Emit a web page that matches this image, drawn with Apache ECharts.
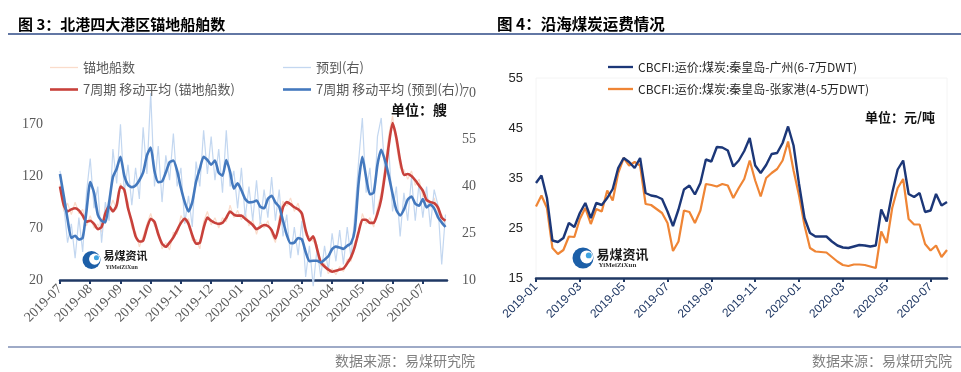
<!DOCTYPE html>
<html>
<head>
<meta charset="utf-8">
<script src="https://cdn.jsdelivr.net/npm/echarts@6/dist/echarts.min.js"></script>
<style>
html,body{margin:0;padding:0;background:#fff;}
#chart{width:961px;height:372px;}
</style>
</head>
<body>
<div id="chart"></div>
<script>
// ---------- Figure 3 data (sampled every 1/8 month from 2019-07-01) ----------
const leftStep = 0.125;
const leftTicks = ['2019-07','2019-08','2019-09','2019-10','2019-11','2019-12','2020-01','2020-02','2020-03','2020-04','2020-05','2020-06','2020-07'];
const anchorage = [112,86,94,83,95,84,88,72,82,70, 74,66,90,86,97,88,113,104,95,70, 66,52,62,74,84,72,68,50,56,49, 66,64,82,75,79,58,59,50,76,86, 73,80,70,80,76,92,80,87,78,85, 72,78,64,76,70,77,64,56,80,96, 91,99,86,94,80,63,62,57,54,33, 36,26,31,25,33,28,40,38,57,62, 84,74,80,71,90,104,130,160,178,150, 128,126,117,125,111,117,100,102,90,99, 85,83,72];
const arrivals = [45,34,22,28,17,30,19,38,49,33, 40,22,35,29,52,41,60,38,47,34, 46,36,59,44,70,40,53,35,50,42, 57,40,46,28,37,27,48,40,58,44, 56,42,52,38,58,40,45,33,46,30, 40,29,42,28,39,30,43,29,39,24, 31,17,27,18,29,11,21,8,20,11, 21,13,25,16,26,15,27,17,31,48, 62,38,46,31,56,62,44,52,32,40, 24,38,29,43,29,41,30,40,27,39, 34,15,31];
const anchorageMA = [110,92,86,88,89,87,82,76,77,74, 69,71,84,91,86,92,110,107,89,76, 62,57,58,70,79,76,64,55,52,56, 61,68,75,79,74,63,55,56,70,80, 77,75,74,75,80,86,83,82,82,79, 76,73,69,71,73,72,68,60,73,90, 95,93,90,88,84,68,58,62,50,37, 33,30,28,29,30,31,36,42,52,66, 78,78,75,75,84,98,122,150,171,157, 135,121,122,120,116,111,106,97,95,94, 90,80,77];
const arrivalsMA = [44,37,29.5,23.5,24.2,23,23.5,32,41.4,38, 31,29,28.5,35,43,45.7,49.5,43.5,40.5,39.8, 40.3,42,44.5,50,52.5,45,41.4,41.6,44.5,47.8, 48.3,45,39.5,35,32,35,41.5,45.7,49.5,48.5, 47,48.3,44.4,43.5,48.5,44.7,39.3,41,38.8,36, 34.9,35,35.5,33.5,33,36,37,34.9,33.5,29, 24.5,21.8,22,23.5,23,19,16,16.2,16.2,15.6, 16.5,17.6,19.9,20.7,20.4,20,21,21.8,26,41, 49.5,43,37.5,38,47,51.8,48.3,43.4,37.6,32.5, 30.7,32.6,35.8,36.8,34.5,33.8,36,33.3,34.2,33, 30.2,28.5,27];

// ---------- Figure 4 data (sampled every 1/4 month from 2019-01-01) ----------
const rightStep = 0.25;
const rightTicks = ['2019-01','2019-03','2019-05','2019-07','2019-09','2019-11','2020-01','2020-03','2020-05','2020-07'];
const qhdGuangzhou = [34,35.5,31,22.5,22.2,23,26,25.2,28,30, 27,30,29.6,31,32.8,37,39,38.2,37,39, 32,31.5,31.3,30.8,28.3,25.4,28.7,32.7,33.5,31.7, 34,38.7,38.3,41.2,41.1,40.5,37.3,38.5,40.4,43, 37.5,36,37.6,39.8,40,42,45.3,41.5,33.8,27, 24,23.3,23.3,23.3,22.3,21.5,21.1,21,21.3,21.6, 21.5,21.3,21.5,28.7,26.3,32,36.7,38.5,31.8,31.2, 32,28.2,28.5,31.8,29.5,30.2];
const qhdZhangjiagang = [29.3,31.5,29,21,19.8,20.6,23.3,23.2,26.8,29, 25.8,28.8,28.3,32.5,30.5,36,39,37.5,38.2,37.5, 29.8,29.6,28.8,28,26,20.4,22.3,28.5,28.2,26, 28.5,33.8,33.6,33.3,33.8,33.5,31,33,34.8,38.5, 34.5,31.3,35,36,36.8,38.5,42.3,36.5,31.5,25.5, 21,20.3,20.2,20.1,19.2,18.3,17.6,17.4,17.7,17.7, 17.6,17.3,17,24.3,22,29,33,34.8,26.8,25.7, 25.7,21.8,20.5,21.5,19.2,20.6];

const toPairs = (arr, step) => arr.map((v, i) => [i * step, v]);
const leftTickVals = leftTicks.map((_, i) => i);
const rightTickVals = rightTicks.map((_, i) => i * 2);

const SANS = '"Liberation Sans", "Noto Sans CJK SC", sans-serif';
const SERIF = '"Liberation Serif", "Noto Sans CJK SC", serif';
const CJK = '"Noto Sans CJK SC", "Liberation Sans", sans-serif';
const NAVY = '#1f3864';
const THICK = 'path://M0,0H28V2.6H0Z';
const THIN = 'path://M0,0H28V1.3H0Z';

function logo(cx, cy, r, fs, subFs) {
  return [
    {type:'circle', shape:{cx:cx, cy:cy, r:r}, style:{fill:'#1c5fa8'}, silent:true},
    {type:'circle', shape:{cx:cx + r*0.35, cy:cy - r*0.1, r:r*0.62}, style:{fill:'#ffffff'}, silent:true},
    {type:'circle', shape:{cx:cx + r*0.55, cy:cy - r*0.25, r:r*0.28}, style:{fill:'#3fa3e0'}, silent:true},
    {type:'text', x:cx + r + 3, y:cy - 4, style:{text:'易煤资讯', fill:'#1a1a1a', font:'bold ' + fs + 'px ' + CJK, textVerticalAlign:'middle'}, silent:true},
    {type:'text', x:cx + r + 5, y:cy + 7, style:{text:'YiMeiZiXun', fill:'#333', font:'bold ' + subFs + 'px ' + SERIF, textVerticalAlign:'middle'}, silent:true}
  ];
}

const legendBase = {orient:'vertical', itemWidth:28, itemHeight:14, itemGap:9, symbolKeepAspect:true};

const chart = echarts.init(document.getElementById('chart'), null, {renderer:'canvas'});
const option = {
  animation: false,
  backgroundColor: '#ffffff',
  grid: [
    {left:60, right:514, top:93, bottom:92},
    {left:536, right:14, top:78, bottom:94, show:true, borderColor:'#f4f4f4', borderWidth:1}
  ],
  legend: [
    Object.assign({left:45, top:56, textStyle:{color:'#595959', fontSize:13, fontFamily:CJK},
     data:[{name:'锚地船数', icon:THIN}, {name:'7周期 移动平均 (锚地船数)', icon:THICK}]}, legendBase),
    Object.assign({left:278, top:56, textStyle:{color:'#595959', fontSize:13, fontFamily:CJK},
     data:[{name:'预到(右)', icon:THIN}, {name:'7周期 移动平均 (预到(右))', icon:THICK}]}, legendBase),
    Object.assign({left:603, top:56, textStyle:{color:'#262626', fontSize:12, fontFamily:CJK},
     data:[{name:'CBCFI:运价:煤炭:秦皇岛-广州(6-7万DWT)', icon:THICK}, {name:'CBCFI:运价:煤炭:秦皇岛-张家港(4-5万DWT)', icon:THICK}]}, legendBase, {itemWidth:25, itemGap:10})
  ],
  xAxis: [
    {type:'value', gridIndex:0, min:0, max:12.8, interval:1,
     axisLine:{show:true, onZero:false, lineStyle:{color:NAVY, width:2.5}},
     axisTick:{show:true, customValues:leftTickVals, length:4, lineStyle:{color:NAVY, width:2}},
     axisLabel:{customValues:leftTickVals, rotate:45, margin:7, color:'#595959', fontSize:14, fontFamily:SERIF,
       formatter:(v) => leftTicks[Math.round(v)] || ''},
     splitLine:{show:false}},
    {type:'value', gridIndex:1, min:0, max:18.75, interval:1,
     axisLine:{show:true, onZero:false, lineStyle:{color:NAVY, width:2.5}},
     axisTick:{show:true, customValues:rightTickVals, length:4, lineStyle:{color:NAVY, width:2}},
     axisLabel:{customValues:rightTickVals, rotate:45, margin:7, color:'#203864', fontSize:12, fontFamily:SANS,
       formatter:(v) => rightTicks[Math.round(v / 2)] || ''},
     splitLine:{show:false}}
  ],
  yAxis: [
    {type:'value', gridIndex:0, position:'left', min:20, max:200, interval:50,
     axisLine:{show:false}, axisTick:{show:false}, splitLine:{show:false},
     axisLabel:{showMaxLabel:false, margin:17, color:'#595959', fontSize:14, fontFamily:SERIF}},
    {type:'value', gridIndex:0, position:'right', min:10, max:70, interval:15,
     axisLine:{show:false}, axisTick:{show:false}, splitLine:{show:false},
     axisLabel:{margin:15, color:'#595959', fontSize:14, fontFamily:SERIF}},
    {type:'value', gridIndex:1, position:'left', min:15, max:55, interval:10,
     axisLine:{show:false}, axisTick:{show:false}, splitLine:{show:false},
     axisLabel:{margin:13, color:'#262626', fontSize:13, fontFamily:SANS}}
  ],
  series: [
    {name:'锚地船数', type:'line', xAxisIndex:0, yAxisIndex:0, symbol:'none',
     lineStyle:{color:'#fadccb', width:1.2}, itemStyle:{color:'#fadccb'}, z:1,
     data:toPairs(anchorage, leftStep)},
    {name:'预到(右)', type:'line', xAxisIndex:0, yAxisIndex:1, symbol:'none', clip:false,
     lineStyle:{color:'#c3d7f0', width:1.2}, itemStyle:{color:'#c3d7f0'}, z:1,
     data:toPairs(arrivals, leftStep)},
    {name:'7周期 移动平均 (锚地船数)', type:'line', xAxisIndex:0, yAxisIndex:0, symbol:'none', smooth:0.2,
     lineStyle:{color:'#c8413b', width:2.6}, itemStyle:{color:'#c8413b'}, z:3,
     data:toPairs(anchorageMA, leftStep)},
    {name:'7周期 移动平均 (预到(右))', type:'line', xAxisIndex:0, yAxisIndex:1, symbol:'none', smooth:0.2,
     lineStyle:{color:'#4479be', width:2.6}, itemStyle:{color:'#4479be'}, z:4,
     data:toPairs(arrivalsMA, leftStep)},
    {name:'CBCFI:运价:煤炭:秦皇岛-广州(6-7万DWT)', type:'line', xAxisIndex:1, yAxisIndex:2, symbol:'none',
     lineStyle:{color:'#1c3778', width:2.4}, itemStyle:{color:'#1c3778'}, z:4,
     data:toPairs(qhdGuangzhou, rightStep)},
    {name:'CBCFI:运价:煤炭:秦皇岛-张家港(4-5万DWT)', type:'line', xAxisIndex:1, yAxisIndex:2, symbol:'none',
     lineStyle:{color:'#ef8535', width:2.2}, itemStyle:{color:'#ef8535'}, z:3,
     data:toPairs(qhdZhangjiagang, rightStep)}
  ],
  graphic: [
    {type:'text', x:18, y:24, style:{text:'图 3：北港四大港区锚地船舶数', fill:'#000', font:'bold 15px ' + CJK, textVerticalAlign:'middle'}, silent:true},
    {type:'text', x:497, y:24, style:{text:'图 4：沿海煤炭运费情况', fill:'#000', font:'bold 15.5px ' + CJK, textVerticalAlign:'middle'}, silent:true},
    {type:'line', shape:{x1:8, y1:34, x2:961, y2:34}, style:{stroke:'#2e4a86', lineWidth:1.5}, silent:true},
    {type:'line', shape:{x1:8, y1:347, x2:961, y2:347}, style:{stroke:'#3e5690', lineWidth:1.2}, silent:true},
    {type:'text', x:475, y:361, style:{text:'数据来源：易煤研究院', fill:'#808080', font:'14px ' + CJK, textAlign:'right', textVerticalAlign:'middle'}, silent:true},
    {type:'text', x:952, y:361, style:{text:'数据来源：易煤研究院', fill:'#808080', font:'14px ' + CJK, textAlign:'right', textVerticalAlign:'middle'}, silent:true},
    {type:'text', x:391, y:110, style:{text:'单位：艘', fill:'#111', font:'bold 14px ' + CJK, textVerticalAlign:'middle'}, silent:true},
    {type:'text', x:865, y:117, style:{text:'单位：元/吨', fill:'#111', font:'bold 13px ' + CJK, textVerticalAlign:'middle'}, silent:true}
  ].concat(logo(91.5, 260, 9, 11, 6)).concat(logo(583, 258, 10.5, 13, 7))
};
chart.setOption(option);
</script>
</body>
</html>
